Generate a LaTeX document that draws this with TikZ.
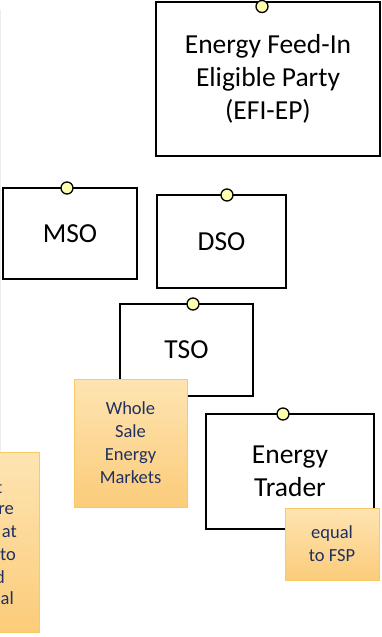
\documentclass[tikz,border=0pt]{standalone}
\usepackage{fontspec}
\setmainfont{Carlito}
\begin{document}
\begin{tikzpicture}[x=1pt,y=-1pt,
  box/.style={draw=black,line width=1.8pt,fill=white,inner sep=0pt,align=center,
    font=\fontsize{27.5}{33}\selectfont},
  port/.style={circle,draw=black,line width=1.3pt,fill=yellowport,inner sep=0pt,minimum size=12pt},
  note/.style={draw=noteborder,line width=0.9pt,top color=notetop,bottom color=notebottom,
    inner sep=0pt,align=center,text=notetext,font=\fontsize{18.5}{23}\selectfont},
  frag/.style={inner sep=0pt,anchor=east,text=notetext,font=\fontsize{18.5}{23}\selectfont}]
\definecolor{yellowport}{HTML}{FFFFB0}
\definecolor{noteborder}{HTML}{F8CA66}
\definecolor{notetop}{HTML}{FEE4B2}
\definecolor{notebottom}{HTML}{FBCC7A}
\definecolor{notetext}{HTML}{1F3060}
\useasboundingbox (0,0) rectangle (382,637);
\fill[white] (0,0) rectangle (382,637);
% faint left rule
\draw[line width=1pt,draw=black!7] (0.5,10) -- (0.5,452);
% boxes
\node[box,minimum width=224pt,minimum height=154pt] (efi) at (268,79) {Energy Feed-In\\Eligible Party\\(EFI-EP)};
\node[port] (efip) at (262,6.5) {};
\node[box,minimum width=134pt,minimum height=91pt] (mso) at (70,233.5) {MSO};
\node[port] (msop) at (67,188) {};
\node[box,minimum width=129pt,minimum height=93pt] (dso) at (221.5,241.5) {DSO};
\node[port] (dsop) at (227,195) {};
\node[box,minimum width=133pt,minimum height=92pt] (tso) at (186.5,350) {TSO};
\node[port] (tsop) at (193,304) {};
\node[note,minimum width=113pt,minimum height=128pt] (whole) at (130.5,443) {Whole\\Sale\\Energy\\Markets};
\node[box,minimum width=168pt,minimum height=115pt] (trader) at (290,471.5) {Energy\\Trader};
\node[port] (traderp) at (283,414) {};
\node[note,minimum width=94pt,minimum height=72pt] (fsp) at (332,544) {equal\\to FSP};
% left note, mostly cut off
\node[note,minimum width=120pt,minimum height=180pt] (leftnote) at (-21,542) {};
\node[frag] (l1) at (2.5,488) {t};
\node[frag] (l2) at (14,510) {re};
\node[frag] (l3) at (17,532) {at};
\node[frag] (l4) at (16,555) {to};
\node[frag] (l5) at (5,577) {d};
\node[frag] (l6) at (14,598) {nal};
\end{tikzpicture}
\end{document}
